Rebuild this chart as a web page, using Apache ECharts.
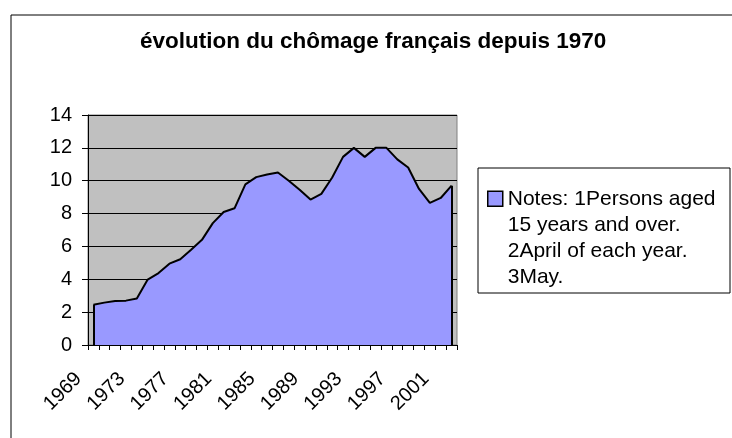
<!DOCTYPE html>
<html>
<head>
<meta charset="utf-8">
<script src="https://cdn.jsdelivr.net/npm/echarts@6/dist/echarts.min.js"></script>
<style>
  html, body { margin: 0; padding: 0; background: #fff; }
  #chart { width: 732px; height: 438px; }
</style>
</head>
<body>
<div id="chart"></div>
<script>
const titleText = 'évolution du chômage français depuis 1970';
const seriesName = 'Notes: 1Persons aged\n15 years and over.\n2April of each year.\n3May.';
const categories = ['1969','1970','1971','1972','1973','1974','1975','1976','1977','1978',
  '1979','1980','1981','1982','1983','1984','1985','1986','1987','1988',
  '1989','1990','1991','1992','1993','1994','1995','1996','1997','1998',
  '1999','2000','2001','2002'];
const values = [2.45, 2.58, 2.68, 2.70, 2.83, 3.98, 4.38, 4.95, 5.22, 5.80,
  6.40, 7.42, 8.10, 8.32, 9.78, 10.22, 10.38, 10.50, 10.00, 9.45,
  8.85, 9.20, 10.20, 11.45, 12.00, 11.45, 12.00, 12.00, 11.30, 10.80,
  9.50, 8.65, 8.95, 9.70];
const yTicks = { min: 0, max: 14, interval: 2 };

const FONT = 'Liberation Sans';
const lastIdx = values.length - 1;
// legend icon: small square at the first text line, inside a tall invisible box
const legendIcon = 'path://M0,0 M0,5.5 L15,5.5 L15,20.5 L0,20.5 Z M15,104';

const chart = echarts.init(document.getElementById('chart'), null, { renderer: 'canvas' });
chart.setOption({
  animation: false,
  backgroundColor: '#fff',
  title: {
    text: titleText,
    left: 140,
    top: 30,
    padding: 0,
    textStyle: { fontFamily: FONT, fontWeight: 'bold', fontSize: 22.5, color: '#000' }
  },
  graphic: [
    { type: 'rect', z: 0, silent: true, shape: { x: 11, y: 15, width: 760, height: 460 },
      style: { fill: 'none', stroke: '#000', lineWidth: 1 } },
    { type: 'rect', z: 0, silent: true, shape: { x: 478, y: 168, width: 252, height: 125 },
      style: { fill: 'none', stroke: '#000', lineWidth: 1 } }
  ],
  legend: {
    orient: 'vertical',
    left: 487,
    top: 185,
    padding: 0,
    icon: legendIcon,
    itemWidth: 15,
    itemHeight: 104,
    selectedMode: false,
    itemStyle: { color: '#9999FF', borderColor: '#000', borderWidth: 1.5 },
    textStyle: { fontFamily: FONT, fontSize: 21, lineHeight: 26, color: '#000' },
    data: [seriesName]
  },
  grid: {
    left: 88, right: 275, top: 115, bottom: 93,
    show: true, backgroundColor: '#C0C0C0', borderColor: '#808080', borderWidth: 1
  },
  xAxis: {
    type: 'category',
    data: categories,
    boundaryGap: true,
    axisLine: { lineStyle: { color: '#000', width: 1 } },
    axisTick: { show: true, interval: 0, length: 5, lineStyle: { color: '#000' } },
    axisLabel: {
      interval: 3, rotate: 45, margin: 30, verticalAlign: 'bottom', padding: [0, 11, 0, 0],
      fontFamily: FONT, fontSize: 20, lineHeight: 20, color: '#000'
    },
    splitLine: { show: false }
  },
  yAxis: {
    type: 'value',
    min: yTicks.min, max: yTicks.max, interval: yTicks.interval,
    axisLine: { show: true, lineStyle: { color: '#000', width: 1 } },
    axisTick: { show: true, length: 6, lineStyle: { color: '#000' } },
    axisLabel: { margin: 16, fontFamily: FONT, fontSize: 20, color: '#000' },
    splitLine: { show: true, lineStyle: { color: '#000', width: 1 } }
  },
  series: [{
    name: seriesName,
    type: 'line',
    data: values,
    symbol: 'none',
    itemStyle: { color: '#9999FF' },
    lineStyle: { color: '#000', width: 2 },
    areaStyle: { color: '#9999FF', opacity: 1 },
    markLine: {
      silent: true,
      symbol: 'none',
      label: { show: false },
      lineStyle: { color: '#000', width: 2, type: 'solid' },
      data: [
        [{ coord: [categories[0], 0] }, { coord: [categories[0], values[0]] }],
        [{ coord: [categories[lastIdx], 0] }, { coord: [categories[lastIdx], values[lastIdx]] }]
      ]
    }
  }]
});
</script>
</body>
</html>
